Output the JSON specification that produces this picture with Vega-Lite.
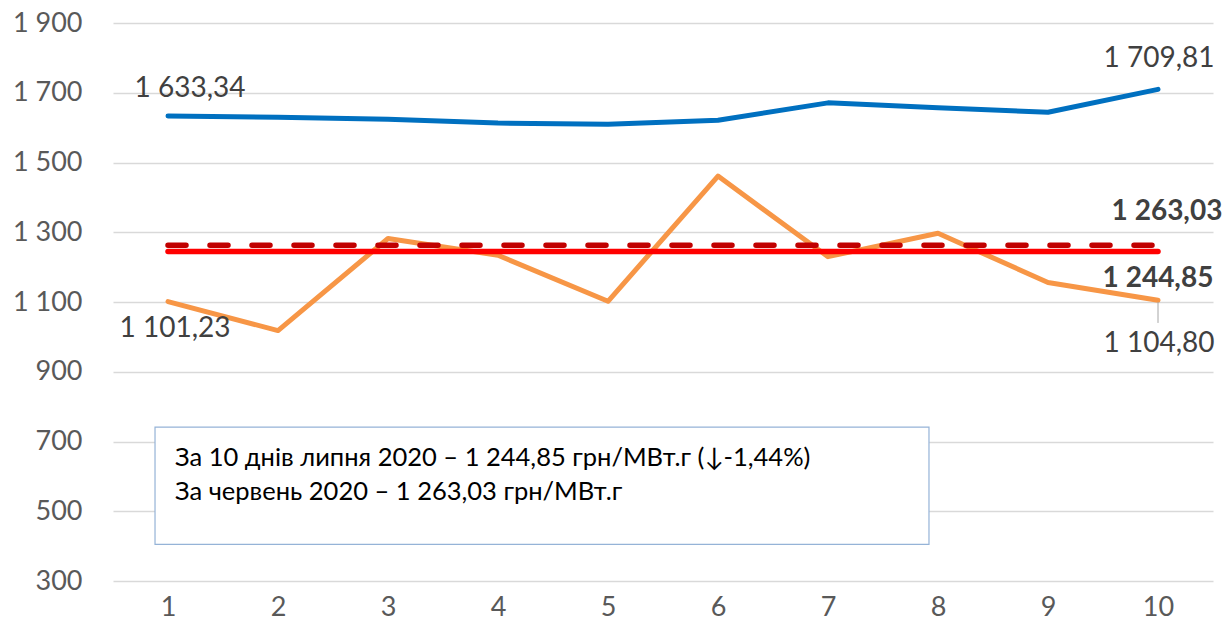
{
  "$schema": "https://vega.github.io/schema/vega-lite/v6.json",
  "width": 1100,
  "height": 558,
  "autosize": "none",
  "padding": {"left": 113, "top": 23, "right": 13, "bottom": 53},
  "background": "white",
  "config": {
    "locale": {"number": {"decimal": ",", "thousands": " ", "grouping": [3], "currency": ["", ""]}},
    "view": {"stroke": null},
    "font": "Lato"
  },
  "datasets": {
    "daily": [
      {"day": 1, "series": "blue", "value": 1633.34},
      {"day": 2, "series": "blue", "value": 1630},
      {"day": 3, "series": "blue", "value": 1624},
      {"day": 4, "series": "blue", "value": 1613},
      {"day": 5, "series": "blue", "value": 1610},
      {"day": 6, "series": "blue", "value": 1621},
      {"day": 7, "series": "blue", "value": 1671},
      {"day": 8, "series": "blue", "value": 1657},
      {"day": 9, "series": "blue", "value": 1644},
      {"day": 10, "series": "blue", "value": 1709.81},
      {"day": 1, "series": "orange", "value": 1101.23},
      {"day": 2, "series": "orange", "value": 1018},
      {"day": 3, "series": "orange", "value": 1282},
      {"day": 4, "series": "orange", "value": 1234},
      {"day": 5, "series": "orange", "value": 1102},
      {"day": 6, "series": "orange", "value": 1461},
      {"day": 7, "series": "orange", "value": 1230},
      {"day": 8, "series": "orange", "value": 1297},
      {"day": 9, "series": "orange", "value": 1156},
      {"day": 10, "series": "orange", "value": 1104.80}
    ],
    "avg": [
      {"name": "july", "value": 1244.85, "start": 1, "end": 10},
      {"name": "june", "value": 1263.03, "start": 1, "end": 10}
    ],
    "note": [
      {"line1": "За 10 днів липня 2020 – 1 244,85 грн/МВт.г (↓-1,44%)", "line2": "За червень 2020 – 1 263,03 грн/МВт.г"}
    ]
  },
  "layer": [
    {
      "data": {"name": "daily"},
      "mark": {"type": "line", "strokeWidth": 5, "strokeCap": "round", "strokeJoin": "round"},
      "encoding": {
        "x": {
          "field": "day", "type": "quantitative",
          "scale": {"domain": [0.5, 10.5], "nice": false, "zero": false},
          "axis": {
            "values": [1, 2, 3, 4, 5, 6, 7, 8, 9, 10], "format": "d", "title": null,
            "grid": false, "domain": false, "ticks": false,
            "labelFont": "Lato", "labelFontSize": 27, "labelColor": "#595959",
            "labelPadding": 13
          }
        },
        "y": {
          "field": "value", "type": "quantitative",
          "scale": {"domain": [300, 1900], "nice": false, "zero": false},
          "axis": {
            "values": [300, 500, 700, 900, 1100, 1300, 1500, 1700, 1900], "format": ",d", "title": null,
            "grid": true, "gridColor": "#D9D9D9", "gridWidth": 1.5,
            "domain": false, "ticks": false,
            "labelFont": "Lato", "labelFontSize": 27, "labelColor": "#595959",
            "labelPadding": 31
          }
        },
        "color": {
          "field": "series", "type": "nominal",
          "scale": {"domain": ["blue", "orange"], "range": ["#0070C0", "#F79646"]},
          "legend": null
        },
        "detail": {"field": "series"}
      }
    },
    {
      "data": {"name": "avg"},
      "transform": [{"filter": "datum.name === 'july'"}],
      "mark": {"type": "rule", "color": "#FF0000", "strokeWidth": 5.5, "strokeCap": "round"},
      "encoding": {
        "x": {"field": "start", "type": "quantitative"},
        "x2": {"field": "end"},
        "y": {"field": "value", "type": "quantitative"}
      }
    },
    {
      "data": {"name": "avg"},
      "transform": [{"filter": "datum.name === 'june'"}],
      "mark": {"type": "rule", "color": "#C00000", "strokeWidth": 5.5, "strokeCap": "round", "strokeDash": [18, 24]},
      "encoding": {
        "x": {"field": "start", "type": "quantitative"},
        "x2": {"field": "end"},
        "y": {"field": "value", "type": "quantitative"}
      }
    },
    {
      "data": {"name": "note"},
      "mark": {"type": "rule", "color": "#A6A6A6", "strokeWidth": 1},
      "encoding": {
        "x": {"datum": 10, "type": "quantitative"},
        "y": {"datum": 1100, "type": "quantitative"},
        "y2": {"datum": 1040}
      }
    },
    {
      "data": {"name": "daily"},
      "transform": [{"filter": "datum.series === 'blue' && datum.day === 1"}],
      "mark": {"type": "text", "font": "Lato", "fontSize": 28, "color": "#404040", "dx": 22, "dy": -27, "baseline": "middle"},
      "encoding": {
        "x": {"field": "day", "type": "quantitative"},
        "y": {"field": "value", "type": "quantitative"},
        "text": {"field": "value", "type": "quantitative", "format": ",.2f"}
      }
    },
    {
      "data": {"name": "daily"},
      "transform": [{"filter": "datum.series === 'blue' && datum.day === 10"}],
      "mark": {"type": "text", "font": "Lato", "fontSize": 28, "color": "#404040", "dx": 1, "dy": -30, "baseline": "middle"},
      "encoding": {
        "x": {"field": "day", "type": "quantitative"},
        "y": {"field": "value", "type": "quantitative"},
        "text": {"field": "value", "type": "quantitative", "format": ",.2f"}
      }
    },
    {
      "data": {"name": "daily"},
      "transform": [{"filter": "datum.series === 'orange' && datum.day === 1"}],
      "mark": {"type": "text", "font": "Lato", "fontSize": 28, "color": "#404040", "dx": 7, "dy": 27, "baseline": "middle"},
      "encoding": {
        "x": {"field": "day", "type": "quantitative"},
        "y": {"field": "value", "type": "quantitative"},
        "text": {"field": "value", "type": "quantitative", "format": ",.2f"}
      }
    },
    {
      "data": {"name": "daily"},
      "transform": [{"filter": "datum.series === 'orange' && datum.day === 10"}],
      "mark": {"type": "text", "font": "Lato", "fontSize": 28, "color": "#404040", "dx": 1, "dy": 44, "baseline": "middle"},
      "encoding": {
        "x": {"field": "day", "type": "quantitative"},
        "y": {"field": "value", "type": "quantitative"},
        "text": {"field": "value", "type": "quantitative", "format": ",.2f"}
      }
    },
    {
      "data": {"name": "avg"},
      "transform": [{"filter": "datum.name === 'june'"}],
      "mark": {"type": "text", "font": "Lato", "fontSize": 28, "fontWeight": "bold", "color": "#404040", "dx": 9, "dy": -33, "baseline": "middle"},
      "encoding": {
        "x": {"field": "end", "type": "quantitative"},
        "y": {"field": "value", "type": "quantitative"},
        "text": {"field": "value", "type": "quantitative", "format": ",.2f"}
      }
    },
    {
      "data": {"name": "avg"},
      "transform": [{"filter": "datum.name === 'july'"}],
      "mark": {"type": "text", "font": "Lato", "fontSize": 28, "fontWeight": "bold", "color": "#404040", "dx": 0, "dy": 28, "baseline": "middle"},
      "encoding": {
        "x": {"field": "end", "type": "quantitative"},
        "y": {"field": "value", "type": "quantitative"},
        "text": {"field": "value", "type": "quantitative", "format": ",.2f"}
      }
    },
    {
      "data": {"name": "note"},
      "mark": {"type": "rect", "fill": "white", "stroke": "#95B3D7", "strokeWidth": 1.2},
      "encoding": {
        "x": {"datum": 0.882, "type": "quantitative"},
        "x2": {"datum": 7.918},
        "y": {"datum": 741, "type": "quantitative"},
        "y2": {"datum": 405}
      }
    },
    {
      "data": {"name": "note"},
      "mark": {"type": "text", "font": "Lato", "fontSize": 25.5, "color": "#000000", "align": "left", "baseline": "middle"},
      "encoding": {
        "x": {"datum": 1.064, "type": "quantitative"},
        "y": {"datum": 652, "type": "quantitative"},
        "text": {"field": "line1"}
      }
    },
    {
      "data": {"name": "note"},
      "mark": {"type": "text", "font": "Lato", "fontSize": 25.5, "color": "#000000", "align": "left", "baseline": "middle"},
      "encoding": {
        "x": {"datum": 1.064, "type": "quantitative"},
        "y": {"datum": 554, "type": "quantitative"},
        "text": {"field": "line2"}
      }
    }
  ]
}
